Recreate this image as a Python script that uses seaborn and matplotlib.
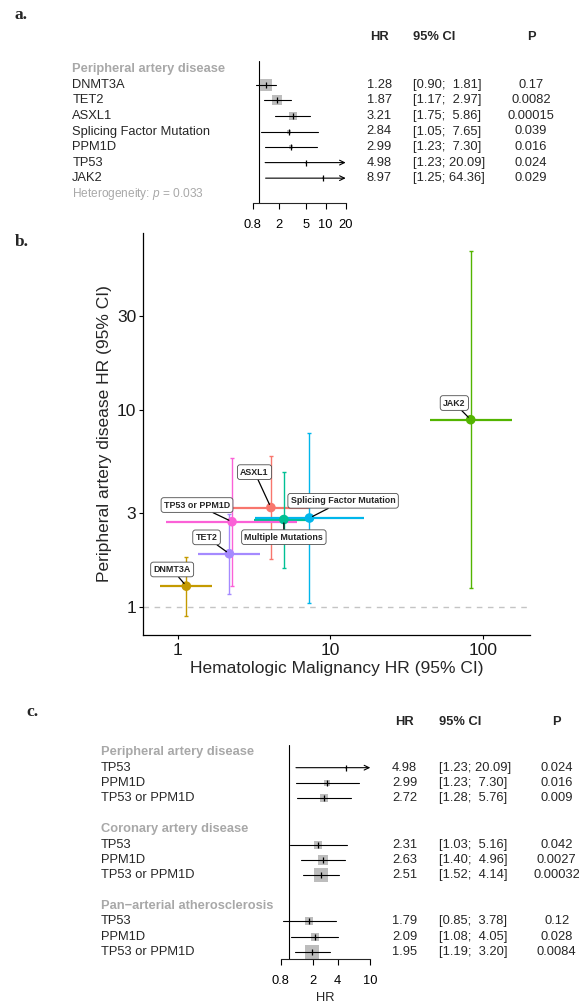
import matplotlib
matplotlib.use("Agg")
import matplotlib.pyplot as plt
import matplotlib.transforms as mtransforms
from matplotlib.ticker import NullLocator
import numpy as np
import pandas as pd
import seaborn as sns

sns.set_style("ticks")
plt.rcParams["font.family"] = ["Liberation Sans", "DejaVu Sans"]
plt.rcParams["mathtext.fontset"] = "custom"
plt.rcParams["mathtext.rm"] = "Liberation Sans"
plt.rcParams["mathtext.it"] = "Liberation Sans:italic"

# ---- panel a: forest, peripheral artery disease by gene
a_outcome = "Peripheral artery disease"
a_genes = ["DNMT3A", "TET2", "ASXL1", "Splicing Factor Mutation", "PPM1D", "TP53", "JAK2"]
a_hr = [1.28, 1.87, 3.21, 2.84, 2.99, 4.98, 8.97]
a_lo = [0.90, 1.17, 1.75, 1.05, 1.23, 1.23, 1.25]
a_hi = [1.81, 2.97, 5.86, 7.65, 7.30, 20.09, 64.36]
a_p = ["0.17", "0.0082", "0.00015", "0.039", "0.016", "0.024", "0.029"]
a_w = [45.3, 28.1, 14.9, 3.4, 7.0, 1.1, 0.3]
a_het = "0.033"
a_ticks = [0.8, 2, 5, 10, 20]

# ---- panel b: heme malignancy HR vs PAD HR
b_groups = ["ASXL1", "DNMT3A", "JAK2", "Multiple Mutations",
            "Splicing Factor Mutation", "TET2", "TP53 or PPM1D"]
b_heme = [4.08, 1.14, 83.0, 4.96, 7.30, 2.18, 2.27]
b_heme_lo = [2.30, 0.77, 44.9, 3.17, 3.20, 1.36, 0.84]
b_heme_hi = [7.20, 1.69, 155.6, 7.75, 16.6, 3.44, 6.09]
b_pad = [3.21, 1.28, 8.97, 2.79, 2.84, 1.87, 2.72]
b_pad_lo = [1.75, 0.90, 1.25, 1.59, 1.05, 1.17, 1.28]
b_pad_hi = [5.86, 1.81, 64.36, 4.86, 7.65, 2.97, 5.76]
b_colors = ["#F8766D", "#C49A00", "#53B400", "#00C094", "#00B6EB", "#A58AFF", "#FB61D7"]

# ---- panel c: TP53 / PPM1D across outcomes
c_outcomes = ["Peripheral artery disease", "Coronary artery disease",
              "Pan\u2212arterial atherosclerosis"]
c_genes = ["TP53", "PPM1D", "TP53 or PPM1D"]
c_hr = [4.98, 2.99, 2.72, 2.31, 2.63, 2.51, 1.79, 2.09, 1.95]
c_lo = [1.23, 1.23, 1.28, 1.03, 1.40, 1.52, 0.85, 1.08, 1.19]
c_hi = [20.09, 7.30, 5.76, 5.16, 4.96, 4.14, 3.78, 4.05, 3.20]
c_p = ["0.024", "0.016", "0.009", "0.042", "0.0027", "0.00032", "0.12", "0.028", "0.0084"]
c_w = [2.5, 11.1, 19.3, 21.3, 24.3, 47.5, 21.3, 21.3, 55.0]
c_ticks = [0.8, 2, 4, 10]

W, H = 579, 1007
fig = plt.figure(figsize=(W / 100, H / 100), dpi=100)


def fx(px):
    return px / W


def fy(py):
    return 1 - py / H


GREY = "#A8A8A8"
FS = 9.25


def forest(box, row0, step, xmax, ticks, rows, hr, lo, hi, wts, pvals, cols, head_y, hr_lab_y):
    left, right, top, bottom = box
    ax = fig.add_axes([fx(left), fy(bottom), fx(right) - fx(left), fy(top) - fy(bottom)])
    ax.set_xscale("log")
    ax.set_xlim(0.8, xmax)
    ax.set_ylim((bottom - row0) / step, (top - row0) / step)
    for s in ["top", "right", "left"]:
        ax.spines[s].set_visible(False)
    ax.patch.set_alpha(0)
    ax.axvline(1, color="black", lw=0.8, zorder=1)
    ax.set_xticks(ticks)
    ax.set_xticklabels([f"{t:g}" for t in ticks])
    ax.xaxis.set_minor_locator(NullLocator())
    ax.set_yticks([])
    ax.tick_params(axis="x", direction="out", length=4.5, width=0.8, pad=7,
                   labelsize=FS, colors="black")
    ax.spines["bottom"].set_linewidth(0.8)
    ax.set_xlabel("HR", fontsize=FS)
    ax.xaxis.set_label_coords(0.5, -(hr_lab_y - bottom) / (bottom - top))
    ax.xaxis.label.set_va("center")

    lab_x, hr_x, ci_x, p_x = cols
    fig.text(fx(hr_x), fy(head_y), "HR", ha="center", va="center", fontsize=FS, weight="bold")
    fig.text(fx(ci_x), fy(head_y), "95% CI", ha="left", va="center", fontsize=FS, weight="bold")
    fig.text(fx(p_x), fy(head_y), "P", ha="center", va="center", fontsize=FS, weight="bold")

    trans = mtransforms.blended_transform_factory(fig.transFigure, ax.transData)
    k = 0
    for r, (kind, txt) in enumerate(rows):
        if kind == "head":
            ax.text(fx(lab_x), r, txt, transform=trans, ha="left", va="center",
                    fontsize=FS, weight="bold", color=GREY)
        elif kind == "note":
            ax.text(fx(lab_x), r, txt, transform=trans, ha="left", va="center",
                    fontsize=8.6, color=GREY)
        elif kind == "item":
            ax.text(fx(lab_x), r, txt, transform=trans, ha="left", va="center", fontsize=FS)
            side = 1.887 * np.sqrt(wts[k])
            ax.scatter([hr[k]], [r], marker="s", s=(side * 0.72) ** 2, color="#BDBDBD",
                       linewidths=0, zorder=2)
            if hi[k] > xmax:
                ax.annotate("", xy=(xmax, r), xytext=(lo[k], r), annotation_clip=False,
                            arrowprops=dict(arrowstyle="->,head_length=0.35,head_width=0.17",
                                            lw=0.8, color="black", shrinkA=0, shrinkB=0))
            else:
                ax.plot([lo[k], hi[k]], [r, r], color="black", lw=0.8, zorder=3)
            ax.plot([hr[k]], [r], marker="|", ms=4, mew=0.9, color="black", zorder=4)
            ax.text(fx(hr_x), r, f"{hr[k]:.2f}", transform=trans, ha="center", va="center",
                    fontsize=FS)
            ax.text(fx(ci_x), r, f"[{lo[k]:.2f}; {hi[k]:5.2f}]", transform=trans,
                    ha="left", va="center", fontsize=FS)
            ax.text(fx(p_x), r, pvals[k], transform=trans, ha="center", va="center",
                    fontsize=FS)
            k += 1
    return ax


# panel a
rows_a = [("head", a_outcome)] + [("item", g) for g in a_genes] + \
         [("note", "Heterogeneity: $p$ = " + a_het)]
forest((252.7, 345.7, 60.7, 203.0), 69.3, 15.55, 20, a_ticks, rows_a,
       a_hr, a_lo, a_hi, a_w, a_p, (72.3, 379.3, 413.3, 531.0), 37.3, 240.0)

# panel c
rows_c = []
for i, o in enumerate(c_outcomes):
    if i > 0:
        rows_c.append(("blank", ""))
    rows_c.append(("head", o))
    rows_c += [("item", g) for g in c_genes]
forest((280.7, 370.3, 745.0, 959.3), 752.3, 15.38, 10, c_ticks, rows_c,
       c_hr, c_lo, c_hi, c_w, c_p, (100.7, 404.5, 439.0, 556.7), 721.7, 998.3)

# panel b
dfb = pd.DataFrame({"group": b_groups, "heme": b_heme, "heme_lo": b_heme_lo,
                    "heme_hi": b_heme_hi, "pad": b_pad, "pad_lo": b_pad_lo,
                    "pad_hi": b_pad_hi})
pal = dict(zip(b_groups, b_colors))

axb = fig.add_axes([fx(142.7), fy(634.5), fx(530) - fx(142.7), fy(233) - fy(634.5)])
axb.set_xscale("log")
axb.set_yscale("log")


def expand(lo_vals, hi_vals):
    a, b = np.log10(min(lo_vals)), np.log10(max(hi_vals))
    d = (b - a) * 0.05
    return 10 ** (a - d), 10 ** (b + d)


axb.set_xlim(*expand(b_heme_lo, b_heme_hi))
axb.set_ylim(*expand(b_pad_lo, b_pad_hi))
axb.axhline(1, color="#C4C4C4", lw=1.0, ls=(0, (4, 4)), zorder=0)

for _, row in dfb.iterrows():
    c = pal[row["group"]]
    axb.hlines(row["pad"], row["heme_lo"], row["heme_hi"], color=c, lw=1.6, zorder=1)
    axb.errorbar(row["heme"], row["pad"],
                 yerr=[[row["pad"] - row["pad_lo"]], [row["pad_hi"] - row["pad"]]],
                 fmt="none", ecolor=c, elinewidth=1.0, capsize=1.3, capthick=1.0, zorder=1)

sns.scatterplot(data=dfb, x="heme", y="pad", hue="group", palette=pal, s=48,
                edgecolor="none", legend=False, ax=axb, zorder=3)

lab_off = {"ASXL1": (-11.8, 25.5), "DNMT3A": (-10.2, 12.0), "JAK2": (-11.8, 12.0),
           "Multiple Mutations": (0.0, -12.7), "Splicing Factor Mutation": (24.2, 12.4),
           "TET2": (-16.4, 11.8), "TP53 or PPM1D": (-25.2, 12.0)}
for _, row in dfb.iterrows():
    axb.annotate(row["group"], xy=(row["heme"], row["pad"]),
                 xytext=lab_off[row["group"]], textcoords="offset points",
                 ha="center", va="center", fontsize=6.4, weight="bold", zorder=6,
                 bbox=dict(boxstyle="round,pad=0.32,rounding_size=0.3", fc="white",
                           ec="#4D4D4D", lw=0.6),
                 arrowprops=dict(arrowstyle="-", color="black", lw=0.9,
                                 shrinkA=0, shrinkB=2.5))

axb.set_xticks([1, 10, 100])
axb.set_xticklabels(["1", "10", "100"])
axb.set_yticks([1, 3, 10, 30])
axb.set_yticklabels(["1", "3", "10", "30"])
axb.xaxis.set_minor_locator(NullLocator())
axb.yaxis.set_minor_locator(NullLocator())
axb.tick_params(direction="out", length=3.1, width=0.8, labelsize=12.5,
                colors="black", labelcolor="#1A1A1A")
axb.tick_params(axis="y", pad=1.5)
axb.tick_params(axis="x", pad=3.0)
for s in ["top", "right"]:
    axb.spines[s].set_visible(False)
for s in ["left", "bottom"]:
    axb.spines[s].set_linewidth(0.9)
    axb.spines[s].set_color("black")
axb.set_xlabel("Hematologic Malignancy HR (95% CI)", fontsize=12.5)
axb.set_ylabel("Peripheral artery disease HR (95% CI)", fontsize=12.5)
axb.xaxis.set_label_coords(0.5, -(668.3 - 634.5) / (634.5 - 233))
axb.xaxis.label.set_va("center")
axb.yaxis.set_label_coords(-(142.7 - 104.5) / (530 - 142.7), 0.5)
axb.yaxis.label.set_va("center")

# panel letters
for txt, x, y in [("a.", 15, 15), ("b.", 15, 242), ("c.", 26.7, 711.7)]:
    fig.text(fx(x), fy(y), txt, ha="left", va="center", fontsize=12.5,
             weight="bold", family="Liberation Serif")

fig.savefig("out.png", dpi=100)
